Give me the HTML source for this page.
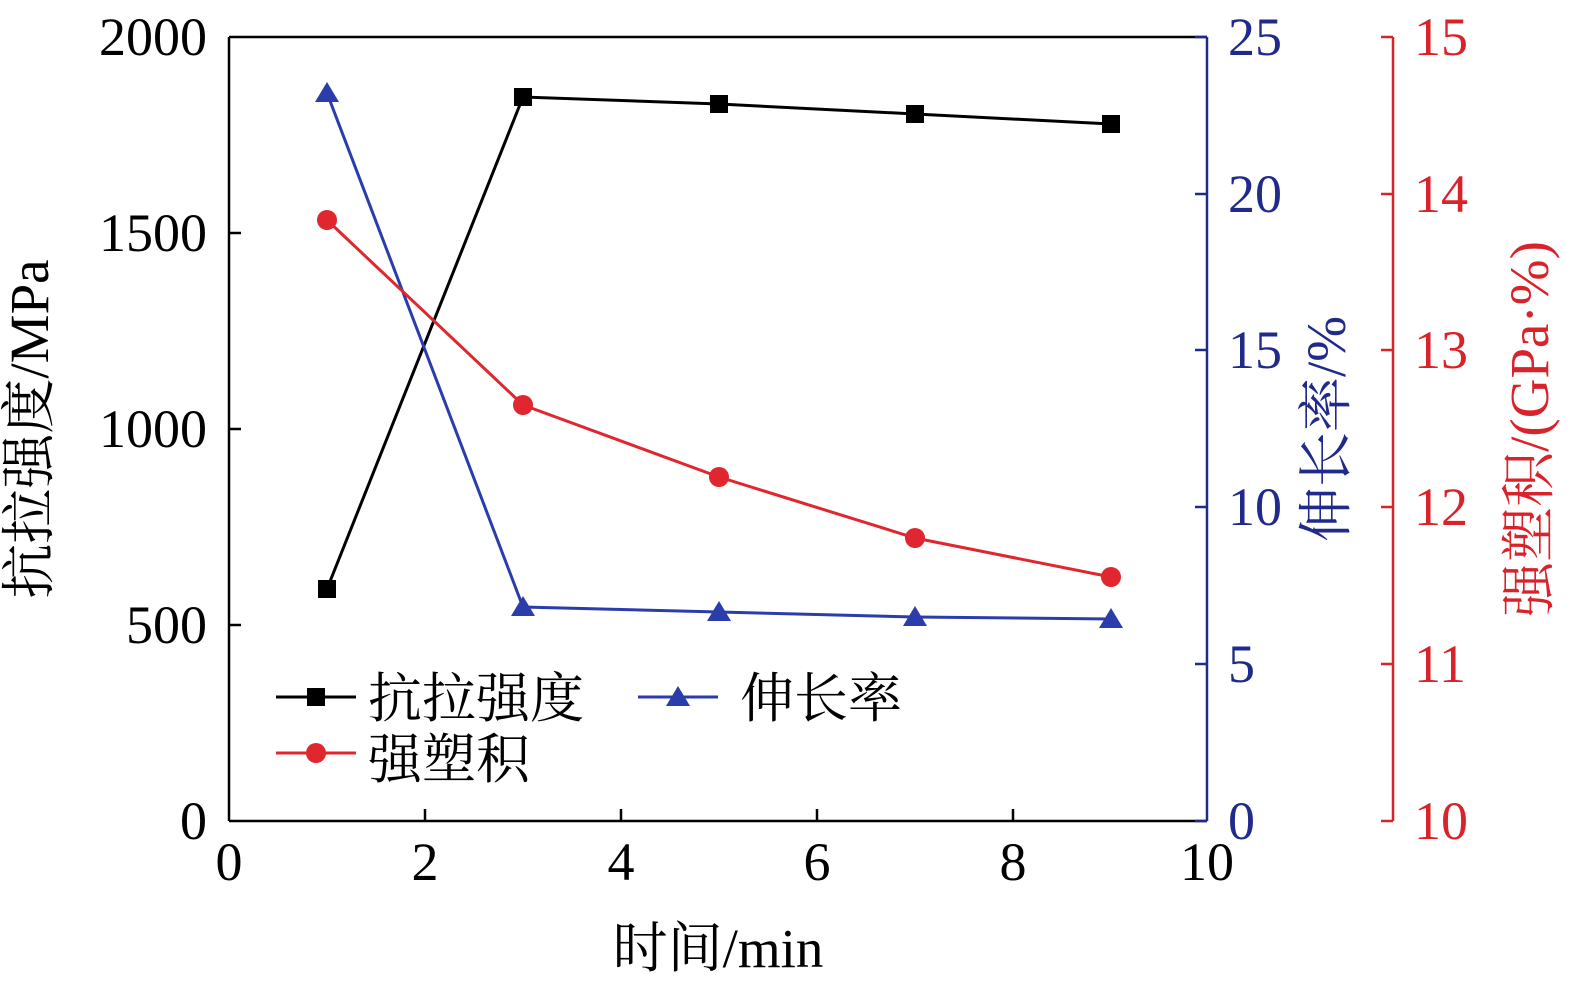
<!DOCTYPE html>
<html><head><meta charset="utf-8"><style>body{margin:0;background:#fff}svg{display:block}</style></head><body>
<svg width="1575" height="994" xmlns="http://www.w3.org/2000/svg" font-family="Liberation Serif, Noto Serif CJK SC, serif">
<rect width="1575" height="994" fill="#fff"/>
<line x1="229" y1="37" x2="1207" y2="37" stroke="#000" stroke-width="2.5"/>
<line x1="229" y1="821" x2="1207" y2="821" stroke="#000" stroke-width="2.5"/>
<line x1="229" y1="37" x2="229" y2="821" stroke="#000" stroke-width="2.5"/>
<line x1="1207" y1="37" x2="1207" y2="821" stroke="#1f2a8a" stroke-width="2.5"/>
<line x1="1393" y1="37" x2="1393" y2="821" stroke="#d9232a" stroke-width="2.5"/>
<g stroke="#000" stroke-width="2.5">
<line x1="229" y1="625" x2="241" y2="625"/><line x1="229" y1="429" x2="241" y2="429"/><line x1="229" y1="233" x2="241" y2="233"/>
<line x1="425" y1="821" x2="425" y2="809"/><line x1="621" y1="821" x2="621" y2="809"/><line x1="817" y1="821" x2="817" y2="809"/><line x1="1013" y1="821" x2="1013" y2="809"/>
</g>
<g stroke="#1f2a8a" stroke-width="2.5">
<line x1="1195" y1="37" x2="1207" y2="37"/><line x1="1195" y1="194" x2="1207" y2="194"/><line x1="1195" y1="350" x2="1207" y2="350"/><line x1="1195" y1="507" x2="1207" y2="507"/><line x1="1195" y1="664" x2="1207" y2="664"/><line x1="1195" y1="821" x2="1207" y2="821"/>
</g>
<g stroke="#d9232a" stroke-width="2.5">
<line x1="1381" y1="37" x2="1393" y2="37"/><line x1="1381" y1="194" x2="1393" y2="194"/><line x1="1381" y1="350" x2="1393" y2="350"/><line x1="1381" y1="507" x2="1393" y2="507"/><line x1="1381" y1="664" x2="1393" y2="664"/><line x1="1381" y1="821" x2="1393" y2="821"/>
</g>
<g font-size="54" fill="#000" text-anchor="end">
<text x="207" y="55">2000</text><text x="207" y="251">1500</text><text x="207" y="447">1000</text><text x="207" y="643">500</text><text x="207" y="839">0</text>
</g>
<g font-size="54" fill="#000" text-anchor="middle">
<text x="229" y="880">0</text><text x="425" y="880">2</text><text x="621" y="880">4</text><text x="817" y="880">6</text><text x="1013" y="880">8</text><text x="1207" y="880">10</text>
</g>
<g font-size="54" fill="#1f2a8a">
<text x="1228" y="55">25</text><text x="1228" y="212">20</text><text x="1228" y="368">15</text><text x="1228" y="525">10</text><text x="1228" y="682">5</text><text x="1228" y="839">0</text>
</g>
<g font-size="54" fill="#d9232a">
<text x="1414" y="55">15</text><text x="1414" y="212">14</text><text x="1414" y="368">13</text><text x="1414" y="525">12</text><text x="1414" y="682">11</text><text x="1414" y="839">10</text>
</g>
<text x="718" y="967" font-size="55" text-anchor="middle">时间/min</text>
<text transform="translate(48,429) rotate(-90)" font-size="55" text-anchor="middle">抗拉强度/MPa</text>
<text transform="translate(1345,429) rotate(-90)" font-size="55" text-anchor="middle" fill="#1f2a8a">伸长率/%</text>
<text transform="translate(1548,429) rotate(-90)" font-size="55" text-anchor="middle" fill="#d9232a">强塑积/(GPa·%)</text>
<polyline points="327,589 523,97 719,104 915,114 1111,124" fill="none" stroke="#000" stroke-width="3"/>
<g fill="#000"><rect x="318" y="580" width="18" height="18"/><rect x="514" y="88" width="18" height="18"/><rect x="710" y="95" width="18" height="18"/><rect x="906" y="105" width="18" height="18"/><rect x="1102" y="115" width="18" height="18"/></g>
<polyline points="327,93 523,607 719,612 915,617 1111,619" fill="none" stroke="#2a3dab" stroke-width="3"/>
<g fill="#2a3dab"><polygon points="327,82 315,102 339,102"/><polygon points="523,596 511,616 535,616"/><polygon points="719,601 707,621 731,621"/><polygon points="915,606 903,626 927,626"/><polygon points="1111,608 1099,628 1123,628"/></g>
<polyline points="327,220 523,405 719,477 915,538 1111,577" fill="none" stroke="#e0262e" stroke-width="3"/>
<g fill="#e0262e"><circle cx="327" cy="220" r="10"/><circle cx="523" cy="405" r="10"/><circle cx="719" cy="477" r="10"/><circle cx="915" cy="538" r="10"/><circle cx="1111" cy="577" r="10"/></g>
<line x1="276" y1="697" x2="356" y2="697" stroke="#000" stroke-width="3"/><rect x="307" y="688" width="18" height="18" fill="#000"/>
<text x="368" y="717" font-size="54">抗拉强度</text>
<line x1="638" y1="697" x2="718" y2="697" stroke="#2a3dab" stroke-width="3"/><polygon points="678,686 666,706 690,706" fill="#2a3dab"/>
<text x="740" y="717" font-size="54">伸长率</text>
<line x1="276" y1="753" x2="356" y2="753" stroke="#e0262e" stroke-width="3"/><circle cx="316" cy="753" r="10" fill="#e0262e"/>
<text x="368" y="778" font-size="54">强塑积</text>
</svg>
</body></html>
